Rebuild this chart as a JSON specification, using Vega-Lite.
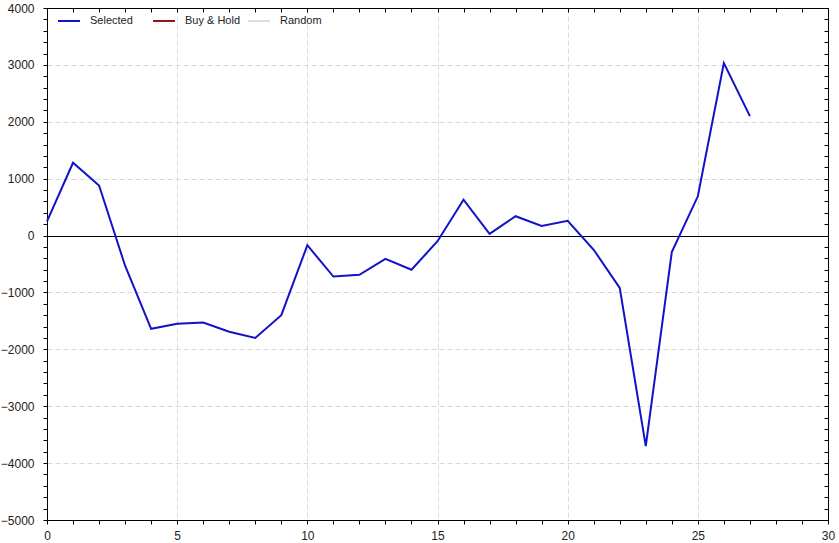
{
  "$schema": "https://vega.github.io/schema/vega-lite/v6.json",
  "autosize": "none",
  "width": 781,
  "height": 512,
  "padding": {"left": 47, "top": 8, "right": 11, "bottom": 23},
  "background": "white",
  "config": {
    "view": {"stroke": null},
    "font": "Liberation Sans"
  },
  "data": {"values": [
    {"period": 0, "value": 250, "series": "Selected"},
    {"period": 1, "value": 1280, "series": "Selected"},
    {"period": 2, "value": 880, "series": "Selected"},
    {"period": 3, "value": -530, "series": "Selected"},
    {"period": 4, "value": -1640, "series": "Selected"},
    {"period": 5, "value": -1550, "series": "Selected"},
    {"period": 6, "value": -1530, "series": "Selected"},
    {"period": 7, "value": -1690, "series": "Selected"},
    {"period": 8, "value": -1800, "series": "Selected"},
    {"period": 9, "value": -1400, "series": "Selected"},
    {"period": 10, "value": -170, "series": "Selected"},
    {"period": 11, "value": -720, "series": "Selected"},
    {"period": 12, "value": -690, "series": "Selected"},
    {"period": 13, "value": -410, "series": "Selected"},
    {"period": 14, "value": -600, "series": "Selected"},
    {"period": 15, "value": -100, "series": "Selected"},
    {"period": 16, "value": 630, "series": "Selected"},
    {"period": 17, "value": 30, "series": "Selected"},
    {"period": 18, "value": 340, "series": "Selected"},
    {"period": 19, "value": 170, "series": "Selected"},
    {"period": 20, "value": 260, "series": "Selected"},
    {"period": 21, "value": -250, "series": "Selected"},
    {"period": 22, "value": -920, "series": "Selected"},
    {"period": 23, "value": -3700, "series": "Selected"},
    {"period": 24, "value": -290, "series": "Selected"},
    {"period": 25, "value": 690, "series": "Selected"},
    {"period": 26, "value": 3030, "series": "Selected"},
    {"period": 27, "value": 2100, "series": "Selected"}
  ]},
  "layer": [
    {
      "mark": {"type": "line", "strokeWidth": 2},
      "encoding": {
        "x": {
          "field": "period", "type": "quantitative",
          "scale": {"domain": [0, 30], "nice": false, "zero": false},
          "axis": {
            "orient": "bottom", "title": null,
            "values": [0,1,2,3,4,5,6,7,8,9,10,11,12,13,14,15,16,17,18,19,20,21,22,23,24,25,26,27,28,29,30],
            "labelExpr": "datum.value % 5 === 0 ? datum.label : ''",
            "labelFlush": false, "labelOverlap": false,
            "labelFontSize": 12, "labelColor": "#222222", "labelPadding": 6,
            "tickSize": 4, "tickColor": "#000000",
            "domainColor": "#000000",
            "grid": true,
            "gridColor": "#d9d9d9",
            "gridDash": [5, 3],
            "gridOpacity": {"condition": {"test": "datum.value % 5 === 0 && datum.value > 0 && datum.value < 30", "value": 1}, "value": 0}
          }
        },
        "y": {
          "field": "value", "type": "quantitative",
          "scale": {"domain": [-5000, 4000], "nice": false, "zero": false},
          "axis": {
            "orient": "left", "title": null,
            "values": [-5000,-4800,-4600,-4400,-4200,-4000,-3800,-3600,-3400,-3200,-3000,-2800,-2600,-2400,-2200,-2000,-1800,-1600,-1400,-1200,-1000,-800,-600,-400,-200,0,200,400,600,800,1000,1200,1400,1600,1800,2000,2200,2400,2600,2800,3000,3200,3400,3600,3800,4000],
            "labelExpr": "datum.value % 1000 === 0 ? datum.label : ''",
            "format": "d",
            "labelFlush": false, "labelOverlap": false,
            "labelFontSize": 12, "labelColor": "#222222", "labelPadding": 9,
            "tickSize": 4, "tickColor": "#000000",
            "domainColor": "#000000",
            "grid": true,
            "gridColor": {"condition": {"test": "datum.value === 0", "value": "#000000"}, "value": "#d9d9d9"},
            "gridDash": {"condition": {"test": "datum.value === 0", "value": []}, "value": [5, 3]},
            "gridOpacity": {"condition": {"test": "datum.value % 1000 === 0 && datum.value > -5000 && datum.value < 4000", "value": 1}, "value": 0}
          }
        },
        "color": {
          "field": "series", "type": "nominal",
          "scale": {"domain": ["Selected", "Buy & Hold", "Random"], "range": ["#1212c8", "#8b1a1a", "#dedede"]},
          "legend": {
            "title": null,
            "orient": "none",
            "legendX": 10,
            "legendY": 1,
            "direction": "horizontal",
            "symbolType": "stroke",
            "symbolSize": 484,
            "symbolStrokeWidth": 2,
            "labelFontSize": 11,
            "labelColor": "#222222",
            "labelOffset": 9,
            "columnPadding": 3,
            "gridAlign": "all"
          }
        }
      }
    },
    {
      "mark": {"type": "line", "strokeOpacity": 0},
      "encoding": {
        "x": {
          "field": "period", "type": "quantitative",
          "axis": {
            "orient": "top", "title": null,
            "values": [0,1,2,3,4,5,6,7,8,9,10,11,12,13,14,15,16,17,18,19,20,21,22,23,24,25,26,27,28,29,30],
            "labels": false, "grid": false,
            "tickSize": -4, "tickColor": "#000000", "domainColor": "#000000"
          }
        },
        "y": {
          "field": "value", "type": "quantitative",
          "axis": {
            "orient": "right", "title": null,
            "values": [-5000,-4800,-4600,-4400,-4200,-4000,-3800,-3600,-3400,-3200,-3000,-2800,-2600,-2400,-2200,-2000,-1800,-1600,-1400,-1200,-1000,-800,-600,-400,-200,0,200,400,600,800,1000,1200,1400,1600,1800,2000,2200,2400,2600,2800,3000,3200,3400,3600,3800,4000],
            "labels": false, "grid": false,
            "tickSize": -4, "tickColor": "#000000", "domainColor": "#000000"
          }
        }
      }
    }
  ],
  "resolve": {"scale": {"x": "shared", "y": "shared"}, "axis": {"x": "independent", "y": "independent"}}
}
